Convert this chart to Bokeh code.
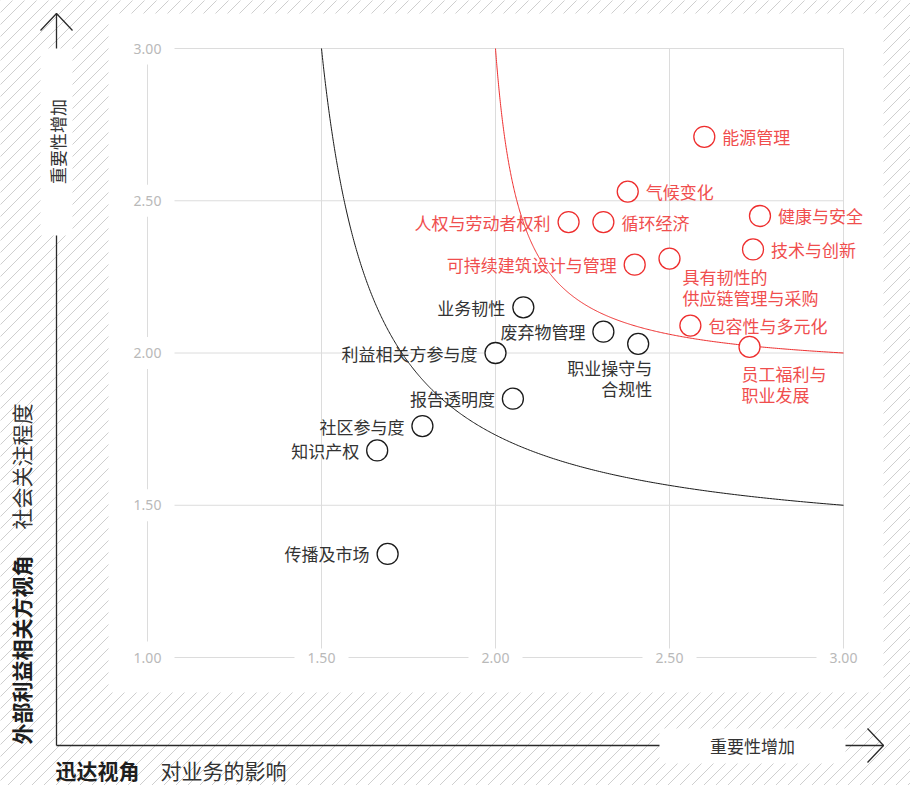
import numpy as np
from bokeh.plotting import figure
from bokeh.models import Range1d
from bokeh.core.properties import value
from bokeh.embed import file_html
from bokeh.resources import INLINE

# ---------------- data ----------------
red_topics = ["能源管理", "气候变化", "人权与劳动者权利", "循环经济", "健康与安全",
              "技术与创新", "可持续建筑设计与管理", "具有韧性的\n供应链管理与采购",
              "包容性与多元化", "员工福利与\n职业发展"]
red_x = [2.60, 2.38, 2.21, 2.31, 2.76, 2.74, 2.40, 2.50, 2.56, 2.73]
red_y = [2.71, 2.53, 2.43, 2.43, 2.45, 2.34, 2.29, 2.31, 2.09, 2.02]

black_topics = ["业务韧性", "废弃物管理", "职业操守与\n合规性", "利益相关方参与度",
                "报告透明度", "社区参与度", "知识产权", "传播及市场"]
black_x = [2.08, 2.31, 2.41, 2.00, 2.05, 1.79, 1.66, 1.69]
black_y = [2.15, 2.07, 2.03, 2.00, 1.85, 1.76, 1.68, 1.34]

tick_values = [1.0, 1.5, 2.0, 2.5, 3.0]
tick_labels = ["1.00", "1.50", "2.00", "2.50", "3.00"]

y_title_bold = "外部利益相关方视角"
y_title_reg = "社会关注程度"
x_title_bold = "迅达视角"
x_title_reg = "对业务的影响"
arrow_label = "重要性增加"

# threshold curves: (start x at top, end y at right, asymptote offset)
curve_black = (1.5, 1.5, 1.35)
curve_red = (2.0, 2.0, 1.93)

# ---------------- layout / style ----------------
W, H = 910, 785
OFF = 0
PXX, PXY = 348.0, 304.5
ORIGIN = (147, 657)  # page px of (1, 1)

def X(ax):
    return 1 + (ax - ORIGIN[0]) / PXX

def Y(ay):
    return 1 + (ORIGIN[1] - ay) / PXY

CJK = value("Noto Sans CJK SC")
RED_LINE = "#ee2e2e"
RED_TEXT = "#f04e4e"
DARK = "#2a2a2a"
LABEL_DARK = "#333333"
LINE_GAP = 21

PLACE = {"R": ("left", 18, 0), "L": ("right", -18, 0)}
red_place = ["R", "R", "L", "R", "R", "R", "L", ("left", 13, 18), "R", ("left", -8, 27)]
black_place = ["L", "L", ("right", 14, 24), "L", "L", "L", "L", "L"]

p = figure(width=W, height=H, x_range=Range1d(X(OFF), X(OFF + W)),
           y_range=Range1d(Y(OFF + H), Y(OFF)), output_backend="svg",
           toolbar_location=None, x_axis_location=None, y_axis_location=None,
           min_border=0, outline_line_color=None)
p.grid.visible = False
p.background_fill_color = "white"
p.border_fill_color = "white"

# hatch background
step = 12
hx, hy = [], []
for c in np.arange(OFF, OFF + W + H + step, step):
    hx.append([X(OFF - 5), X(OFF + W + 5)])
    hy.append([Y(c - (OFF - 5)), Y(c - (OFF + W + 5))])
p.multi_line(hx, hy, line_color="#cfcfcf", line_width=1)

# white plot panel
p.quad(left=[X(108)], right=[X(883)], top=[Y(13)], bottom=[Y(692)],
       fill_color="white", line_color=None)

# grid
for t in tick_values:
    p.line([1, 3], [t, t], line_color="#dcdcdc", line_width=1)
    p.line([t, t], [1, 3], line_color="#dcdcdc", line_width=1)

# tick label masks and labels
mx = 27 / PXX
myy = 16 / PXY
myx = 9 / PXY
p.quad(left=[1 - mx] * 5, right=[1 + mx] * 5,
       top=[t + myy for t in tick_values], bottom=[t - myy for t in tick_values],
       fill_color="white", line_color=None)
p.quad(left=[t - mx for t in tick_values[1:]], right=[t + mx for t in tick_values[1:]],
       top=[1 + myx] * 4, bottom=[1 - myx] * 4, fill_color="white", line_color=None)
p.text(x=[1.0] * 5, y=tick_values, text=tick_labels, text_align="center",
       text_baseline="middle", text_font=value("Noto Sans"), text_font_size="14px",
       text_color="#b9b9b9")
p.text(x=tick_values[1:], y=[1.0] * 4, text=tick_labels[1:], text_align="center",
       text_baseline="middle", text_font=value("Noto Sans"), text_font_size="14px",
       text_color="#b9b9b9")

# curves
def hyper(x_top, y_right, a):
    c = (x_top - a) * (3 - a)
    u = np.geomspace(x_top - a, 3 - a, 400)
    xs = a + u
    ys = a + c / u
    return xs, ys

bx, by = hyper(*curve_black)
p.line(bx, by, line_color="#1a1a1a", line_width=1)
rx, ry = hyper(*curve_red)
p.line(rx, ry, line_color=RED_LINE, line_width=1)

# axes with arrows
p.line([X(56), X(56)], [Y(13), Y(745)], line_color=DARK, line_width=1.3)
p.line([X(56), X(883)], [Y(745), Y(745)], line_color=DARK, line_width=1.3)
p.line([X(40), X(56), X(72)], [Y(30), Y(13), Y(30)], line_color=DARK, line_width=1.3)
p.line([X(867), X(883), X(867)], [Y(728), Y(745), Y(762)], line_color=DARK, line_width=1.3)
p.quad(left=[X(40), X(659)], right=[X(72), X(845)], top=[Y(48), Y(728)],
       bottom=[Y(235), Y(763)], fill_color="white", line_color=None)
p.text(x=[X(57)], y=[Y(141)], text=[arrow_label], angle=np.pi / 2, text_align="center",
       text_baseline="middle", text_font=CJK, text_font_size="17px", text_color=LABEL_DARK)
p.text(x=[X(752)], y=[Y(745)], text=[arrow_label], text_align="center",
       text_baseline="middle", text_font=CJK, text_font_size="17px", text_color=LABEL_DARK)

# outer titles
p.text(x=[X(20)], y=[Y(744)], text=[y_title_bold], angle=np.pi / 2, text_align="left",
       text_baseline="middle", text_font=CJK, text_font_size="21px",
       text_font_style="bold", text_color="#1e1e1e")
p.text(x=[X(20)], y=[Y(529)], text=[y_title_reg], angle=np.pi / 2, text_align="left",
       text_baseline="middle", text_font=CJK, text_font_size="21px", text_color=LABEL_DARK)
p.text(x=[X(55)], y=[Y(769)], text=[x_title_bold], text_align="left",
       text_baseline="middle", text_font=CJK, text_font_size="21px",
       text_font_style="bold", text_color="#1e1e1e")
p.text(x=[X(160)], y=[Y(769)], text=[x_title_reg], text_align="left",
       text_baseline="middle", text_font=CJK, text_font_size="21px", text_color=LABEL_DARK)

# points and labels
def draw_group(xs, ys, topics, places, line_col, text_col):
    p.scatter(xs, ys, marker="circle", size=21, fill_color="white",
              line_color=line_col, line_width=1.3)
    for xv, yv, t, pl in zip(xs, ys, topics, places):
        al, dx, dy = PLACE[pl] if isinstance(pl, str) else pl
        for i, line in enumerate(t.split("\n")):
            p.text(x=[xv], y=[yv], text=[line], text_align=al, text_baseline="middle",
                   x_offset=dx, y_offset=dy + i * LINE_GAP, text_font=CJK,
                   text_font_size="17px", text_color=text_col)

draw_group(black_x, black_y, black_topics, black_place, "#1a1a1a", LABEL_DARK)
draw_group(red_x, red_y, red_topics, red_place, RED_LINE, RED_TEXT)

open("out.html", "w").write(file_html(p, INLINE))
